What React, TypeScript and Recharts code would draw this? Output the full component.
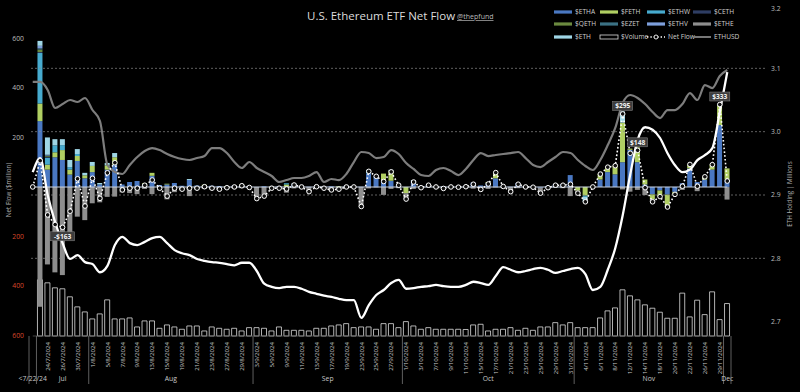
import React from "react";
import { Bar, ComposedChart, LabelList, Line, ReferenceLine, XAxis, YAxis } from "recharts";

// trading days (first bucket is the pre-launch group)
const dates = [
  "<7/22/24",
  "23/7/2024", "24/7/2024", "25/7/2024", "26/7/2024", "29/7/2024", "30/7/2024", "31/7/2024",
  "1/8/2024", "2/8/2024", "5/8/2024", "6/8/2024", "7/8/2024", "8/8/2024", "9/8/2024", "12/8/2024", "13/8/2024", "14/8/2024",
  "15/8/2024", "16/8/2024", "19/8/2024", "20/8/2024", "21/8/2024", "22/8/2024", "23/8/2024", "26/8/2024", "27/8/2024", "28/8/2024",
  "29/8/2024", "30/8/2024",
  "3/9/2024", "4/9/2024", "5/9/2024", "6/9/2024", "9/9/2024", "10/9/2024", "11/9/2024", "12/9/2024", "13/9/2024", "16/9/2024",
  "17/9/2024", "18/9/2024", "19/9/2024", "20/9/2024", "23/9/2024", "24/9/2024", "25/9/2024", "26/9/2024", "27/9/2024", "30/9/2024",
  "1/10/2024", "2/10/2024", "3/10/2024", "4/10/2024", "7/10/2024", "8/10/2024", "9/10/2024", "10/10/2024", "11/10/2024", "14/10/2024",
  "15/10/2024", "16/10/2024", "17/10/2024", "18/10/2024", "21/10/2024", "22/10/2024", "23/10/2024", "24/10/2024", "25/10/2024",
  "28/10/2024", "29/10/2024", "30/10/2024", "31/10/2024",
  "1/11/2024", "4/11/2024", "5/11/2024", "6/11/2024", "7/11/2024", "8/11/2024", "11/11/2024", "12/11/2024", "13/11/2024", "14/11/2024",
  "15/11/2024", "18/11/2024", "19/11/2024", "20/11/2024", "21/11/2024", "22/11/2024", "25/11/2024", "26/11/2024", "27/11/2024",
  "29/11/2024",
  "2/12/2024",
];

// daily flows, $ million
const ETHA = [
  0, 266, 70, 120, 109, 50, 105, 35, 60, 10,
  70, 90, 10, 20, 24, 12, 45, 8, 10, 16,
  5, 28, 6, 3, 5, 4, 0, 6, 8, 3,
  0, 3, 0, 3, 0, 10, 2, 1, 4, 2,
  3, 0, 5, 3, 1, 55, 45, 26, 25, 12,
  0, 24, 4, 9, 2, 2, 1, 0, 5, 18,
  6, 15, 35, 4, 1, 16, 3, 2, -3, 4,
  10, 12, 48, 0, 0, 0, 30, 60, 51, 100,
  150, 100, 10, -30, -14, -31, -20, 15, 75, 20,
  30, 70, 250, 30,
];
const FETH = [
  0, 71, 20, 20, 40, 20, 20, 12, 25, 0,
  17, 30, 0, 0, 0, 3, 12, 0, 3, 0,
  0, 0, 0, 6, 0, 0, 4, 0, 2, 0,
  0, 0, 2, 0, 10, 0, 0, 0, 0, 0,
  0, 3, 0, 0, 0, 0, 0, 28, 40, 0,
  -25, 0, 0, 0, 0, 0, 0, 0, 0, 0,
  0, 5, 20, 0, 0, 0, 0, 0, 0, 0,
  0, 0, 0, -15, -35, 0, 22, 20, 35, 160,
  5, 60, 20, -20, -25, -50, -10, 0, 16, 0,
  11, 20, 80, 45,
];
const ETHW = [
  0, 204, 28, 28, 20, 10, 8, 0, 0, 0,
  0, 0, 0, 0, 0, 0, 0, 0, 0, 0,
  0, 0, 0, 0, 0, 0, 0, 0, 0, 0,
  0, 0, 0, 0, 5, 0, 0, 0, 0, 0,
  0, 0, 0, 0, 0, 10, 0, 0, 0, 0,
  0, 0, 0, 0, 0, 0, 0, 0, 0, 0,
  0, 0, 0, 0, 0, 0, 0, 0, 0, 0,
  0, 0, 0, 0, -5, 0, 0, 0, 0, 0,
  0, 0, 0, 0, 0, 0, 0, 0, 0, 0,
  0, 0, 3, 0,
];
// smaller issuers only moved in the first days
const CETH = [0, 4, 4];
const QETH = [0, 10, 3];
const EZET = [0, 5, 2];
const ETHV = [0, 10, 3];
const ETHE = [
  0, -484, -313, -345, -356, -207, -120, -134, -66, -62,
  -40, -39, -22, -25, -29, -8, -29, -13, -50, -21,
  -14, -37, -11, -8, -10, -13, -7, -6, -5, -5,
  -47, -40, -7, -8, -23, -6, -2, -20, -3, -7,
  -15, -12, -5, -3, -80, -6, -2, -32, -8, -5,
  -24, -8, -7, -2, -2, -8, -1, -1, -4, -7,
  -16, -8, -2, -2, -20, -5, -3, -3, -22, -7,
  -3, -5, -37, -10, 0, 0, 0, 0, 0, -10,
  -19, -12, -33, -10, 0, 0, 0, -12, 0, -17,
  0, 0, 0, -51,
];
const ETH = [
  0, 20, 70, 25, 24, 29, 20, 10, 16, 6,
  10, 17, 0, 0, 0, 0, 0, 0, 0, 0,
  0, 4, 0, 0, 0, 0, 0, 0, 0, 0,
  0, 0, 0, 0, 0, 4, 0, 0, 0, 0,
  0, 0, 0, 0, 0, 4, 0, 0, 4, 0,
  0, 4, 0, 0, 0, 0, 0, 0, 0, 0,
  0, 0, 5, 0, 0, 0, 0, 0, 0, 0,
  0, 0, 0, 0, -20, 0, 0, 0, 0, 45,
  0, 0, 0, 0, 0, 0, 0, 0, 0, 0,
  0, 0, 0, 0,
];

// total ETF trading volume, $ million
const volume = [
  0, 1036, 980, 888, 870, 722, 537, 444, 315, 407,
  666, 315, 315, 333, 167, 278, 278, 142, 204, 167,
  124, 185, 185, 93, 167, 142, 124, 142, 93, 154,
  154, 142, 93, 167, 105, 105, 105, 93, 142, 142,
  185, 204, 228, 154, 167, 167, 124, 228, 228, 154,
  265, 185, 124, 154, 124, 124, 124, 124, 120, 204,
  216, 93, 124, 124, 154, 105, 142, 105, 167, 167,
  246, 204, 246, 154, 154, 154, 333, 463, 518, 851,
  740, 666, 574, 512, 438, 327, 327, 790, 352, 660,
  394, 814, 302, 598,
];

// ETH held by the ETFs, millions
const holding = [
  2.936, 2.958, 2.9, 2.857, 2.824, 2.799, 2.805, 2.794, 2.791, 2.778,
  2.788, 2.821, 2.834, 2.824, 2.821, 2.826, 2.832, 2.834, 2.824, 2.813,
  2.808, 2.805, 2.799, 2.796, 2.794, 2.793, 2.791, 2.789, 2.793, 2.793,
  2.78, 2.76, 2.755, 2.753, 2.755, 2.755, 2.752, 2.747, 2.744, 2.741,
  2.739, 2.736, 2.734, 2.734, 2.706, 2.726, 2.742, 2.75, 2.761, 2.766,
  2.752, 2.753, 2.755, 2.756, 2.758, 2.756, 2.755, 2.755, 2.758, 2.763,
  2.761, 2.758, 2.772, 2.786, 2.782, 2.778, 2.78, 2.783, 2.785, 2.782,
  2.777, 2.78, 2.783, 2.785, 2.775, 2.75, 2.755, 2.782, 2.816, 2.868,
  2.932, 2.987, 3.007, 3.003, 2.99, 2.966, 2.947, 2.936, 2.94, 2.955,
  2.963, 2.974, 3.031, 3.094,
];

const ethusd = [
  3548, 3548, 3449, 3226, 3275, 3325, 3300, 3350, 3201, 3065,
  2521, 2434, 2410, 2521, 2620, 2694, 2731, 2706, 2657, 2620,
  2595, 2583, 2607, 2632, 2731, 2731, 2669, 2558, 2484, 2558,
  2484, 2434, 2385, 2311, 2335, 2360, 2360, 2385, 2434, 2311,
  2348, 2335, 2410, 2558, 2682, 2669, 2607, 2620, 2706, 2657,
  2546, 2472, 2397, 2385, 2459, 2484, 2447, 2397, 2472, 2583,
  2669, 2632, 2645, 2657, 2669, 2682, 2607, 2521, 2496, 2558,
  2620, 2682, 2669, 2583, 2509, 2459, 2583, 2768, 2979, 3288,
  3387, 3350, 3275, 3176, 3102, 3201, 3201, 3275, 3411, 3325,
  3510, 3473, 3622, 3696,
];

const flowTicks = [-600, -400, -200, 200, 400, 600];
const holdTicks = [2.6, 2.7, 2.8, 2.9, 3.0, 3.1, 3.2];
const gridValues = [2.8, 2.9, 3.0, 3.1];
const callouts = ["26/7/2024", "11/11/2024", "13/11/2024", "29/11/2024"];

const series = [
  { key: "ETHA", label: "$ETHA", color: "#4a78c2", values: ETHA },
  { key: "FETH", label: "$FETH", color: "#b0cf62", values: FETH },
  { key: "ETHW", label: "$ETHW", color: "#47abcf", values: ETHW },
  { key: "CETH", label: "$CETH", color: "#2e3d63", values: CETH },
  { key: "QETH", label: "$QETH", color: "#6b8a3f", values: QETH },
  { key: "EZET", label: "$EZET", color: "#3b7184", values: EZET },
  { key: "ETHV", label: "$ETHV", color: "#7d9fdc", values: ETHV },
  { key: "ETHE", label: "$ETHE", color: "#8e8e8e", values: ETHE },
  { key: "ETH", label: "$ETH", color: "#9fd6e6", values: ETH },
];

const data = dates.map((date, i) => {
  const row: any = { date, vol: volume[i] || null, hold: holding[i], px: ethusd[i] };
  let net = 0;
  series.forEach((s) => {
    const v = s.values[i] ?? 0;
    row[s.key] = v;
    net += v;
  });
  row.net = net;
  return row;
});

const MONTHS = ["Jan", "Feb", "Mar", "Apr", "May", "Jun", "Jul", "Aug", "Sep", "Oct", "Nov", "Dec"];
const groupName = (d: string) => (d.startsWith("<") ? d : MONTHS[Number(d.split("/")[1]) - 1]);
const groups: { name: string; start: number; end: number }[] = [];
dates.forEach((d, i) => {
  const g = groupName(d);
  const last = groups[groups.length - 1];
  if (last && last.name === g) last.end = i;
  else groups.push({ name: g, start: i, end: i });
});

const FONT = "'Open Sans', 'Noto Sans', sans-serif";
const PLOT_L = 29;
const PLOT_R = 765;
const PAD_R = 34;
const BAND = (PLOT_R - PLOT_L - PAD_R) / dates.length;
const DATE_Y = 342;
const MONTH_Y = 381;
const SEP_TOP = 336;
const SEP_BOTTOM = 384;

function DateTick(props: any) {
  const { x, payload } = props;
  const i = dates.indexOf(payload.value);
  const parts: any[] = [];
  if (i > 0 && i % 2 === 0) {
    parts.push(
      <text key="d" transform={`translate(${x + 2.2},${DATE_Y}) rotate(-90)`} textAnchor="end" fontSize={6.1} fill="#c8c8c8" fontFamily={FONT}>
        {payload.value}
      </text>
    );
  }
  groups.forEach((g, gi) => {
    if (g.start === i) {
      parts.push(<line key={"s" + gi} x1={x - BAND / 2} x2={x - BAND / 2} y1={SEP_TOP} y2={SEP_BOTTOM} stroke="#777" strokeWidth={0.8} />);
    }
    const mid = Math.floor((g.start + g.end) / 2);
    if (mid === i) {
      const lx = x + ((g.start + g.end) % 2 ? BAND / 2 : 0);
      parts.push(
        <text key={"m" + gi} x={lx} y={MONTH_Y} textAnchor="middle" fontSize={6.8} fill="#c8c8c8" fontFamily={FONT}>
          {g.name}
        </text>
      );
    }
  });
  if (i === dates.length - 1) {
    parts.push(<line key="e" x1={x + BAND / 2} x2={x + BAND / 2} y1={SEP_TOP} y2={SEP_BOTTOM} stroke="#777" strokeWidth={0.8} />);
  }
  return <g>{parts}</g>;
}

function FlowTick(props: any) {
  const { x, y, payload } = props;
  const v = payload.value;
  return (
    <text x={x} y={y + 2.4} textAnchor="end" fontSize={6.8} fill={v < 0 ? "#d9482b" : "#bdbdbd"} fontFamily={FONT}>
      {Math.abs(v)}
    </text>
  );
}

function HoldTick(props: any) {
  const { x, y, payload } = props;
  return (
    <text x={x} y={y + 2.4} textAnchor="start" fontSize={6.8} fill="#bdbdbd" fontFamily={FONT}>
      {payload.value.toFixed(1)}
    </text>
  );
}

function Callout(props: any) {
  const { x, y, value, index } = props;
  if (!callouts.includes(dates[index])) return null;
  const txt = (value < 0 ? "-$" : "$") + Math.abs(Math.round(value));
  const cy = value < 0 ? y + 9 : y - 8;
  const w = txt.length * 4 + 4;
  return (
    <g>
      <rect x={x - w / 2} y={cy - 4.5} width={w} height={9} fill="#3d3d3d" stroke="#888" strokeWidth={0.5} />
      <text x={x} y={cy + 2.4} textAnchor="middle" fontSize={6.6} fontWeight={700} fill="#f2f2f2" fontFamily={FONT}>
        {txt}
      </text>
    </g>
  );
}

const legendRows = [
  ["ETHA", "FETH", "ETHW", "CETH"],
  ["QETH", "EZET", "ETHV", "ETHE"],
  ["ETH", "vol", "net", "px"],
];
const legendX = [554, 600, 647, 693];
const legendY = [12, 24, 37];

function Swatch({ k, x, y }: { k: string; x: number; y: number }) {
  if (k === "vol") return <rect x={x} y={y - 2} width={18} height={4} fill="none" stroke="#ddd" strokeWidth={0.8} />;
  if (k === "net")
    return (
      <g>
        <line x1={x} x2={x + 18} y1={y} y2={y} stroke="#fff" strokeWidth={1.4} strokeDasharray="1.4 2" />
        <circle cx={x + 9} cy={y} r={2} fill="#000" stroke="#fff" strokeWidth={0.9} />
      </g>
    );
  if (k === "px") return <line x1={x} x2={x + 18} y1={y} y2={y} stroke="#777" strokeWidth={2} />;
  const s = series.find((e) => e.key === k)!;
  return <rect x={x} y={y - 1.6} width={18} height={3.2} fill={s.color} />;
}

function labelFor(k: string) {
  if (k === "vol") return "$Volume";
  if (k === "net") return "Net Flow";
  if (k === "px") return "ETHUSD";
  return series.find((e) => e.key === k)!.label;
}

function Overlay() {
  return (
    <svg width={800} height={392} style={{ position: "absolute", left: 0, top: 0, pointerEvents: "none" }}>
      <text x={307} y={20} fontSize={11.5} fill="#dcdcdc" fontFamily={FONT}>
        U.S. Ethereum ETF Net Flow
      </text>
      <text x={457} y={19} fontSize={7} fill="#bbb" fontFamily={FONT} textDecoration="underline">
        @thepfund
      </text>
      {legendRows.map((row, r) =>
        row.map((k, c) => (
          <g key={k}>
            <Swatch k={k} x={legendX[c]} y={legendY[r]} />
            <text x={legendX[c] + 21} y={legendY[r] + 2.3} fontSize={6.6} fill="#cfcfcf" fontFamily={FONT}>
              {labelFor(k)}
            </text>
          </g>
        ))
      )}
      <text transform="translate(11,190) rotate(-90)" textAnchor="middle" fontSize={6.3} fill="#aaa" fontFamily={FONT}>
        Net Flow ($million)
      </text>
      <text transform="translate(792,194) rotate(-90)" textAnchor="middle" fontSize={6.3} fill="#aaa" fontFamily={FONT}>
        ETH Holding | Millions
      </text>
    </svg>
  );
}

export default function App() {
  return (
    <div style={{ position: "absolute", left: 0, top: 0, width: 800, height: 392, background: "#000", overflow: "hidden" }}>
      <ComposedChart width={800} height={392} data={data} stackOffset="sign" margin={{ top: 5, right: 0, bottom: 0, left: 0 }}>
        <XAxis
          xAxisId="d"
          dataKey="date"
          interval={0}
          height={7}
          padding={{ left: 0, right: PAD_R }}
          axisLine={false}
          tickLine={false}
          tick={<DateTick />}
        />
        <XAxis xAxisId="v" dataKey="date" hide padding={{ left: 0, right: PAD_R }} />
        <YAxis
          yAxisId="flow"
          width={PLOT_L}
          domain={[-800, 735]}
          ticks={flowTicks}
          allowDataOverflow
          axisLine={false}
          tickLine={false}
          tickSize={0}
          tickMargin={5}
          tick={<FlowTick />}
        />
        <YAxis
          yAxisId="hold"
          orientation="right"
          width={800 - PLOT_R}
          domain={[2.6, 3.2]}
          ticks={holdTicks}
          allowDataOverflow
          axisLine={false}
          tickLine={false}
          tickSize={0}
          tickMargin={6}
          tick={<HoldTick />}
        />
        <YAxis yAxisId="vol" hide domain={[-903, 6100]} allowDataOverflow />
        <YAxis yAxisId="px" hide domain={[-200, 4500]} allowDataOverflow />

        {gridValues.map((g) => (
          <ReferenceLine key={g} xAxisId="d" yAxisId="hold" y={g} stroke="#8a8a8a" strokeWidth={0.7} strokeDasharray="2 2" />
        ))}
        <ReferenceLine
          xAxisId="d"
          yAxisId="vol"
          segment={[{ x: dates[0], y: 0 }, { x: dates[dates.length - 1], y: 0 }]}
          stroke="#555"
          strokeWidth={0.8}
        />

        <Bar xAxisId="v" yAxisId="vol" dataKey="vol" barSize={5} fill="none" stroke="#dedede" strokeWidth={0.8} isAnimationActive={false} />

        {series.map((s) => (
          <Bar key={s.key} xAxisId="d" yAxisId="flow" dataKey={s.key} stackId="flow" fill={s.color} barSize={5} isAnimationActive={false} />
        ))}

        <ReferenceLine
          xAxisId="d"
          yAxisId="flow"
          segment={[{ x: dates[0], y: 0 }, { x: dates[dates.length - 1], y: 0 }]}
          stroke="#c9d4e4"
          strokeWidth={1.1}
        />

        <Line xAxisId="d" yAxisId="px" dataKey="px" type="monotone" stroke="#7d7d7d" strokeWidth={2.2} dot={false} activeDot={false} isAnimationActive={false} />
        <Line xAxisId="d" yAxisId="hold" dataKey="hold" type="monotone" stroke="#ffffff" strokeWidth={2.3} dot={false} activeDot={false} isAnimationActive={false} />
        <Line
          xAxisId="d"
          yAxisId="flow"
          dataKey="net"
          type="linear"
          stroke="#ffffff"
          strokeWidth={1.6}
          strokeDasharray="1.6 2.2"
          dot={{ r: 2.3, fill: "#111", stroke: "#fff", strokeWidth: 1, strokeDasharray: "" }}
          activeDot={false}
          isAnimationActive={false}
        >
          <LabelList dataKey="net" content={<Callout />} />
        </Line>
      </ComposedChart>
      <Overlay />
    </div>
  );
}
